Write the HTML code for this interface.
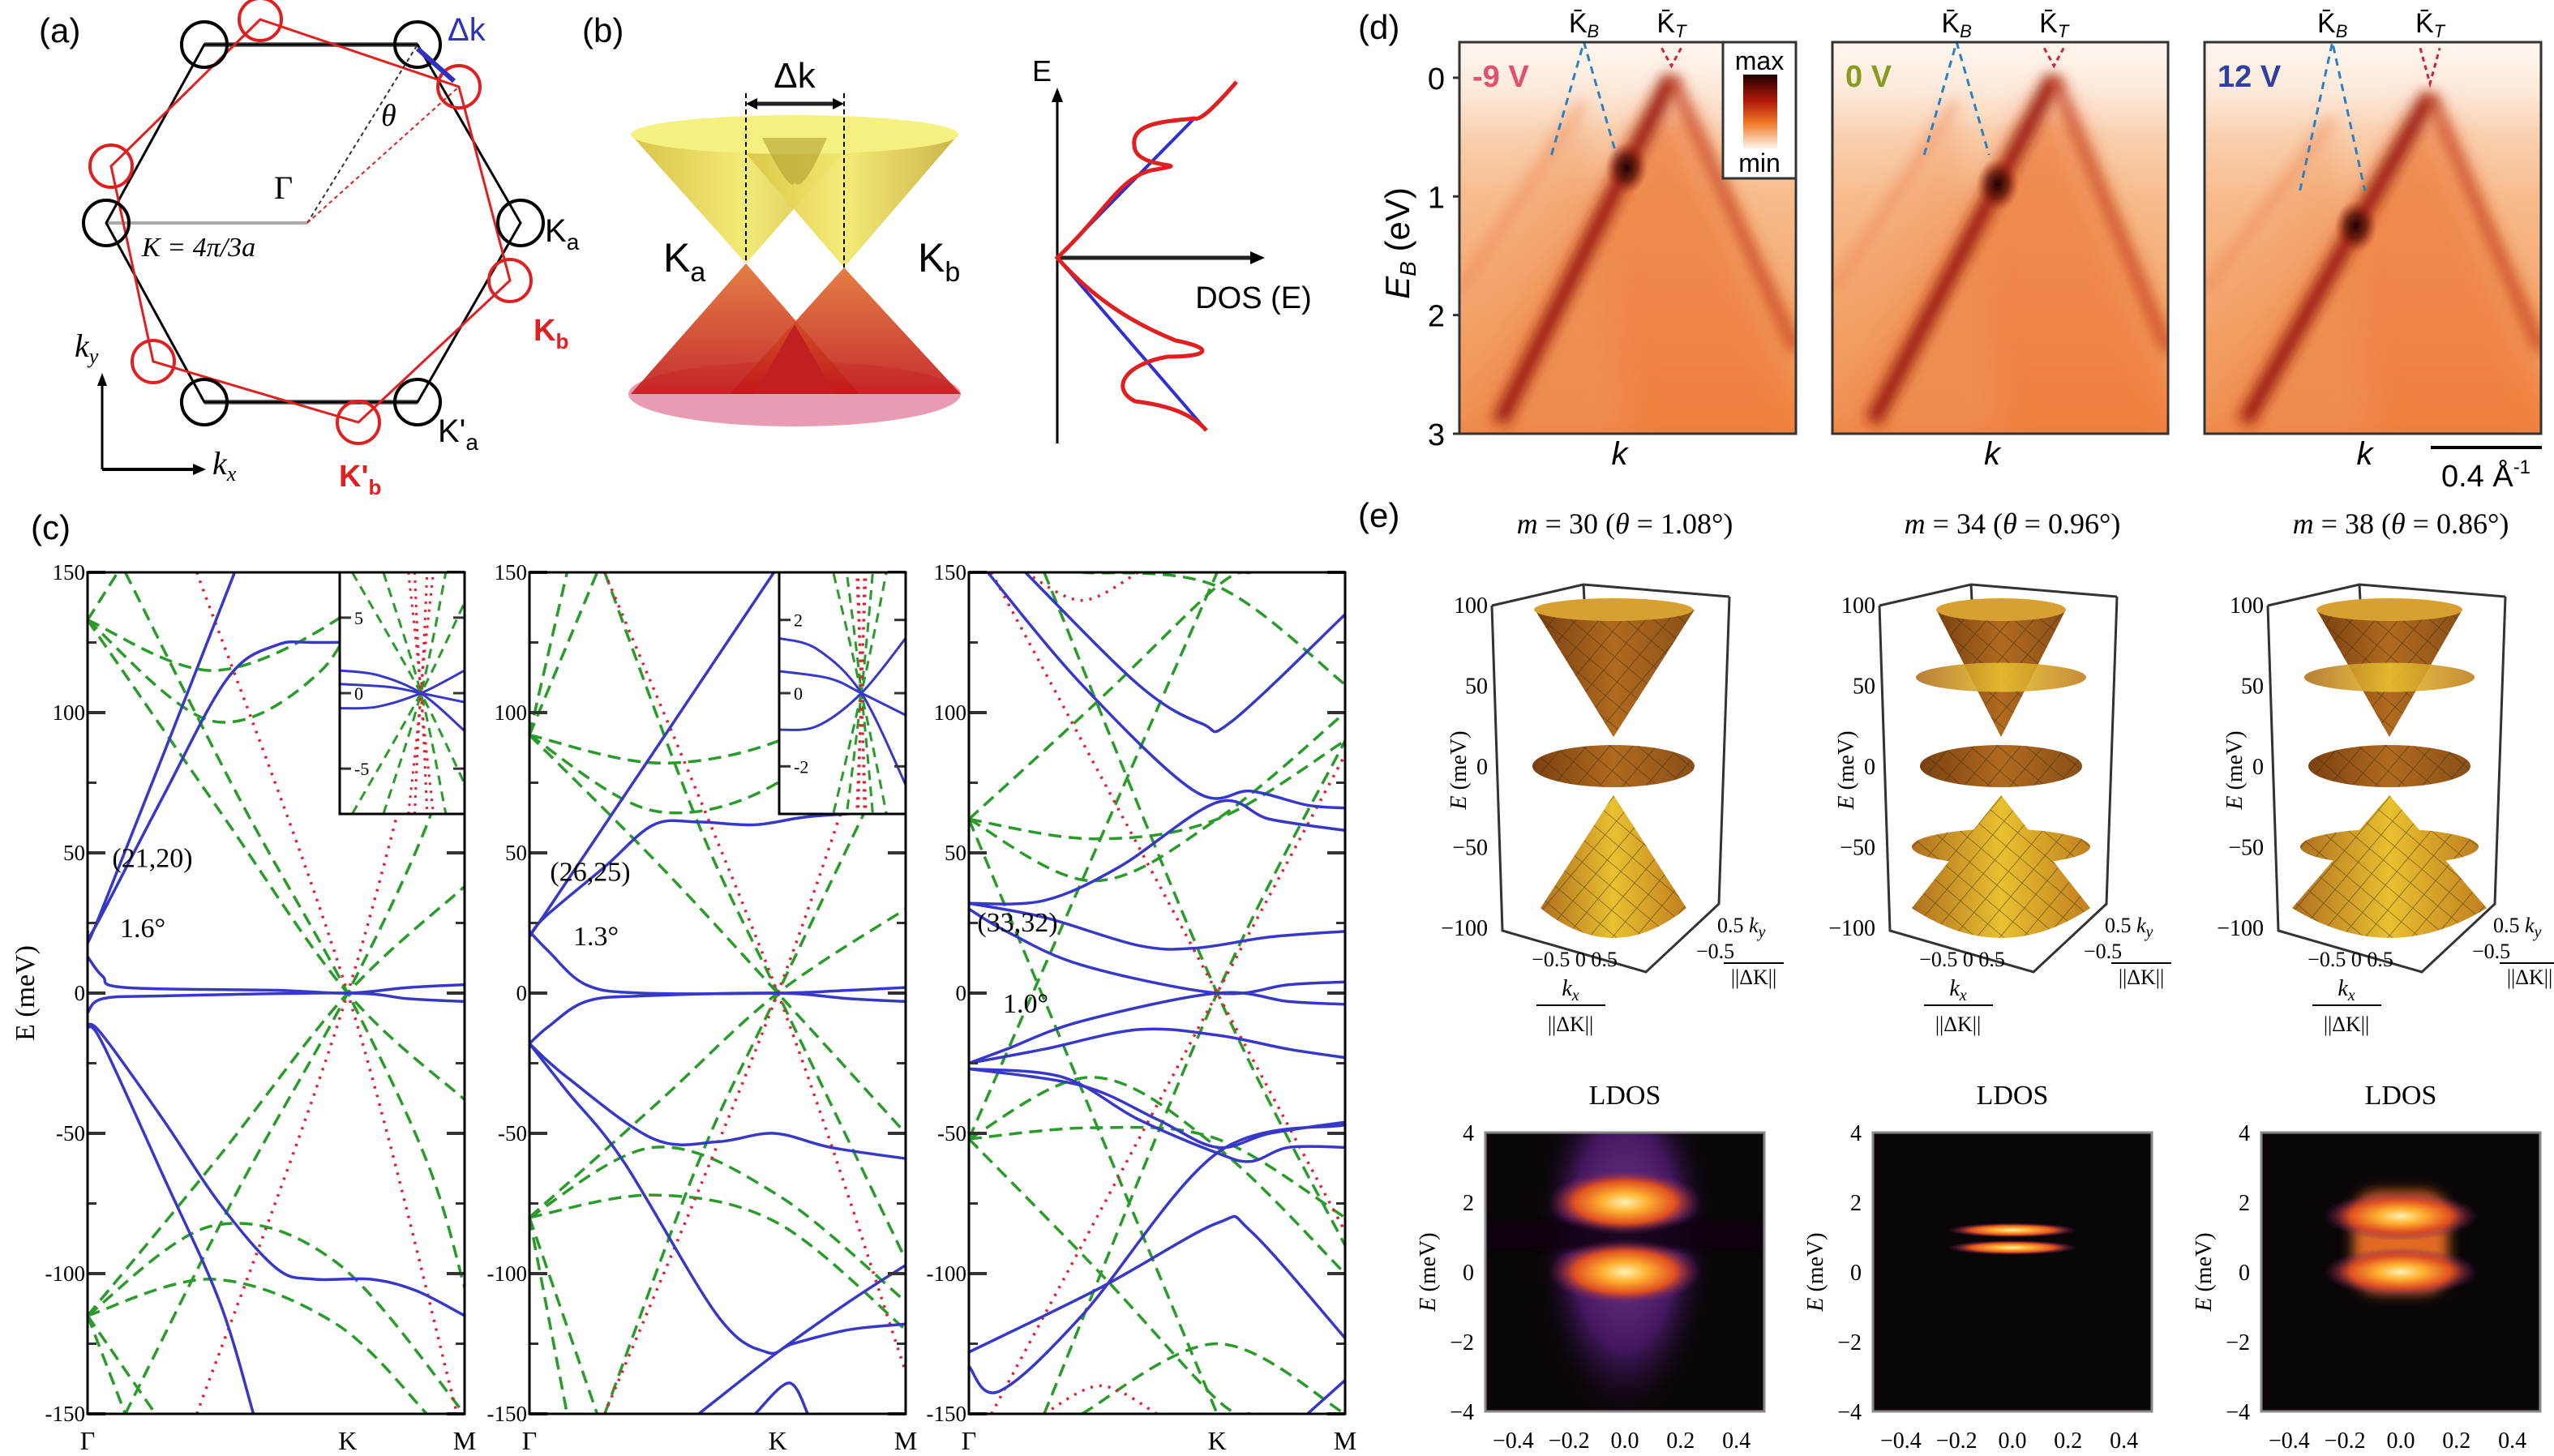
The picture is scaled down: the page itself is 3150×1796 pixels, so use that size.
<!DOCTYPE html>
<html><head><meta charset="utf-8">
<style>
html,body{margin:0;padding:0;background:#fff;}
svg{display:block;}
.sans{font-family:"Liberation Sans",sans-serif;}
.serif{font-family:"Liberation Serif",serif;}
</style></head>
<body>
<svg id="fig" width="3150" height="1796" viewBox="0 0 3150 1796" xmlns="http://www.w3.org/2000/svg">
<defs>
  <linearGradient id="yel" x1="0" y1="0" x2="1" y2="0"><stop offset="0" stop-color="#d8c040"/><stop offset="0.5" stop-color="#f2ea70"/><stop offset="1" stop-color="#c8b040"/></linearGradient>
  <linearGradient id="redc" x1="0" y1="0" x2="0" y2="1"><stop offset="0" stop-color="#e07030"/><stop offset="1" stop-color="#c01818"/></linearGradient>
  <linearGradient id="brown" x1="0" y1="0" x2="1" y2="0"><stop offset="0" stop-color="#7a4010"/><stop offset="0.5" stop-color="#b06a20"/><stop offset="1" stop-color="#8a5018"/></linearGradient>
  <linearGradient id="gold" x1="0" y1="0" x2="1" y2="0"><stop offset="0" stop-color="#b07020"/><stop offset="0.5" stop-color="#e8c030"/><stop offset="1" stop-color="#c08020"/></linearGradient>
  <pattern id="mesh" width="22" height="22" patternUnits="userSpaceOnUse" patternTransform="rotate(40)"><path d="M0 0H22M0 0V22" stroke="#3a2a08" stroke-width="1.6" fill="none" opacity="0.6"/></pattern>
  <linearGradient id="cbar" x1="0" y1="0" x2="0" y2="1"><stop offset="0" stop-color="#200000"/><stop offset="0.35" stop-color="#b01808"/><stop offset="0.65" stop-color="#f07828"/><stop offset="1" stop-color="#fff8f0"/></linearGradient>
  <linearGradient id="arpesbg" x1="0" y1="0" x2="0" y2="1"><stop offset="0" stop-color="#fdf0e6"/><stop offset="0.4" stop-color="#f7bb8c"/><stop offset="1" stop-color="#f0904c"/></linearGradient>
  <linearGradient id="wash" x1="0" y1="0" x2="0" y2="1"><stop offset="0" stop-color="#fff6ee" stop-opacity="0.85"/><stop offset="1" stop-color="#fff6ee" stop-opacity="0"/></linearGradient>
  <filter id="blur8" x="-100%" y="-100%" width="300%" height="300%"><feGaussianBlur stdDeviation="8"/></filter>
  <filter id="blur20" x="-100%" y="-100%" width="300%" height="300%"><feGaussianBlur stdDeviation="20"/></filter>
  <filter id="blur4" x="-100%" y="-100%" width="300%" height="300%"><feGaussianBlur stdDeviation="4"/></filter>
  <radialGradient id="hot"><stop offset="0" stop-color="#fff2b0"/><stop offset="0.3" stop-color="#ffb030"/><stop offset="0.65" stop-color="#e05020"/><stop offset="1" stop-color="#6a1a6a" stop-opacity="0"/></radialGradient>
  <radialGradient id="purp"><stop offset="0" stop-color="#8040a0"/><stop offset="0.6" stop-color="#4a1a6a"/><stop offset="1" stop-color="#100510" stop-opacity="0"/></radialGradient>
  <radialGradient id="darkspot"><stop offset="0" stop-color="#1a0000" stop-opacity="0.95"/><stop offset="0.5" stop-color="#501005" stop-opacity="0.7"/><stop offset="1" stop-color="#a02010" stop-opacity="0"/></radialGradient>
</defs>

<!-- PANEL A -->
<g id="panel-a">
  <text x="48" y="52" class="sans" font-size="42">(a)</text>
  <line x1="252" y1="55" x2="515" y2="55" stroke="#777" stroke-width="6"/>
  <line x1="252" y1="496" x2="515" y2="496" stroke="#777" stroke-width="6"/>
  <line x1="131" y1="275" x2="379" y2="275" stroke="#aaa" stroke-width="4"/>
  <polygon points="252,55 515,55 642,275 515,496 252,496 131,275" fill="none" stroke="#000" stroke-width="3"/>
  <polygon points="321,24 566,107 629,346 442,521 189,446 137,205" fill="none" stroke="#e02020" stroke-width="3"/>
  <g fill="none" stroke="#000" stroke-width="4">
    <circle cx="252" cy="55" r="28"/><circle cx="515" cy="55" r="28"/><circle cx="642" cy="275" r="28"/><circle cx="515" cy="496" r="28"/><circle cx="252" cy="496" r="28"/><circle cx="131" cy="275" r="28"/>
  </g>
  <g fill="none" stroke="#e02020" stroke-width="4">
    <circle cx="321" cy="24" r="26"/><circle cx="566" cy="107" r="26"/><circle cx="629" cy="346" r="26"/><circle cx="442" cy="521" r="26"/><circle cx="189" cy="446" r="26"/><circle cx="137" cy="205" r="26"/>
  </g>
  <line x1="379" y1="275" x2="515" y2="55" stroke="#333" stroke-width="2" stroke-dasharray="5,4"/>
  <line x1="379" y1="275" x2="566" y2="107" stroke="#e02020" stroke-width="2" stroke-dasharray="5,4"/>
  <line x1="515" y1="60" x2="560" y2="100" stroke="#3030c0" stroke-width="6"/>
  <text x="552" y="50" class="sans" font-size="40" fill="#3030c0">Δk</text>
  <text x="470" y="155" class="serif" font-size="38" font-style="italic">θ</text>
  <text x="338" y="245" class="serif" font-size="40">Γ</text>
  <text x="175" y="316" class="serif" font-size="34" font-style="italic">K = 4π/3a</text>
  <text x="672" y="298" class="sans" font-size="40">K<tspan font-size="28" dy="10">a</tspan></text>
  <text x="658" y="420" class="sans" font-size="38" fill="#e02020" font-weight="bold">K<tspan font-size="26" dy="10">b</tspan></text>
  <text x="540" y="545" class="sans" font-size="40">K'<tspan font-size="28" dy="10">a</tspan></text>
  <text x="418" y="600" class="sans" font-size="38" fill="#e02020" font-weight="bold">K'<tspan font-size="26" dy="10">b</tspan></text>
  <line x1="126" y1="579" x2="126" y2="470" stroke="#000" stroke-width="3"/><polygon points="126,460 120,476 132,476"/>
  <line x1="126" y1="579" x2="240" y2="579" stroke="#000" stroke-width="4"/><polygon points="254,579 238,572 238,586"/>
  <text x="92" y="440" class="serif" font-size="40" font-style="italic">k<tspan font-size="26" dy="8">y</tspan></text>
  <text x="262" y="585" class="serif" font-size="40" font-style="italic">k<tspan font-size="26" dy="8">x</tspan></text>
</g>

<!-- PANEL B -->
<g id="panel-b">
  <text x="718" y="52" class="sans" font-size="42">(b)</text>
  <ellipse cx="980" cy="486" rx="205" ry="40" fill="#e07090" opacity="0.7"/>
  <polygon points="920,325 778,486 1060,486" fill="url(#redc)" opacity="0.9"/>
  <polygon points="1041,330 900,486 1185,486" fill="url(#redc)" opacity="0.9"/>
  <polygon points="980,400 930,486 1030,486" fill="#c02020"/>
  <polygon points="920,325 778,166 1060,166" fill="url(#yel)" opacity="0.95"/>
  <polygon points="1041,330 900,166 1182,166" fill="url(#yel)" opacity="0.95"/>
  <ellipse cx="980" cy="166" rx="202" ry="24" fill="#f6f080"/>
  <path d="M940 170 Q975 240 980 225 Q990 240 1020 170 Z" fill="#b0a030" opacity="0.6"/>
  <line x1="920" y1="115" x2="920" y2="325" stroke="#000" stroke-width="2" stroke-dasharray="6,4"/>
  <line x1="1041" y1="115" x2="1041" y2="330" stroke="#000" stroke-width="2" stroke-dasharray="6,4"/>
  <line x1="926" y1="128" x2="1035" y2="128" stroke="#222" stroke-width="5"/>
  <polygon points="920,128 934,121 934,135"/><polygon points="1041,128 1027,121 1027,135"/>
  <text x="980" y="108" class="sans" font-size="44" text-anchor="middle">Δk</text>
  <text x="818" y="335" class="sans" font-size="50">K<tspan font-size="34" dy="12">a</tspan></text>
  <text x="1132" y="335" class="sans" font-size="50">K<tspan font-size="34" dy="12">b</tspan></text>
  <line x1="1304" y1="547" x2="1304" y2="122" stroke="#000" stroke-width="3"/>
  <polygon points="1304,108 1297,126 1311,126"/>
  <line x1="1304" y1="318" x2="1545" y2="318" stroke="#222" stroke-width="5"/>
  <polygon points="1560,318 1542,310 1542,326"/>
  <text x="1273" y="100" class="sans" font-size="36">E</text>
  <text x="1546" y="380" class="sans" font-size="38" text-anchor="middle">DOS (E)</text>
  <polyline points="1473,146 1304,318 1488,531" fill="none" stroke="#3030d0" stroke-width="4"/>
  <path d="M1525,101 C1500,130 1480,150 1473,146 C1440,150 1390,150 1400,185 C1410,210 1480,200 1420,210 C1380,220 1365,260 1304,318 C1350,370 1400,400 1450,420 C1500,430 1490,440 1440,440 C1385,450 1370,480 1400,495 C1440,500 1470,510 1488,531" fill="none" stroke="#e02020" stroke-width="5"/>
</g>

<!-- PANEL C -->
<g id="panel-c">
  <text x="38" y="665" class="sans" font-size="42">(c)</text>
  <text transform="translate(42,1225) rotate(-90)" class="serif" font-size="34" text-anchor="middle">E  (meV)</text>
</g>

<!-- PANEL D -->
<g id="panel-d">
  <text x="1675" y="48" class="sans" font-size="42">(d)</text>
  <text transform="translate(1738,300) rotate(-90)" class="sans" font-size="42" text-anchor="middle"><tspan font-style="italic">E</tspan><tspan font-size="28" dy="8" font-style="italic">B</tspan><tspan dy="-8"> (eV)</tspan></text>
</g>

<!-- PANEL E -->
<g id="panel-e">
  <text x="1675" y="650" class="sans" font-size="42">(e)</text>
</g>
</svg>

<script>
const NS='http://www.w3.org/2000/svg';
function el(tag,attrs,parent){const e=document.createElementNS(NS,tag);for(const k in attrs)e.setAttribute(k,attrs[k]);parent.appendChild(e);return e;}
function smooth(pts){if(pts.length<3){return 'M'+pts.map(p=>p[0].toFixed(1)+','+p[1].toFixed(1)).join(' L');}
 let d='M'+pts[0][0].toFixed(1)+','+pts[0][1].toFixed(1);
 for(let i=0;i<pts.length-1;i++){const p0=pts[i-1]||pts[i],p1=pts[i],p2=pts[i+1],p3=pts[i+2]||p2;
  const c1=[p1[0]+(p2[0]-p0[0])/6,p1[1]+(p2[1]-p0[1])/6],c2=[p2[0]-(p3[0]-p1[0])/6,p2[1]-(p3[1]-p1[1])/6];
  d+=' C'+c1[0].toFixed(1)+','+c1[1].toFixed(1)+' '+c2[0].toFixed(1)+','+c2[1].toFixed(1)+' '+p2[0].toFixed(1)+','+p2[1].toFixed(1);}
 return d;}

/* ===== Panel (c) data ===== */
const cTicks=[150,100,50,0,-50,-100,-150];
const cKLabels=['Γ','K','M'];
const cTitles=[['(21,20)','1.6°'],['(26,25)','1.3°'],['(33,32)','1.0°']];
const cKpos=[0.69,0.66,0.66];
const blue1=[[[0,22],[0.03,27],[0.39,150]],[[0,20],[0.03,26],[0.2,70],[0.37,112],[0.5,124],[0.63,125],[1,125]],[[0,13],[0.04,6],[0.1,2],[0.5,1],[0.69,0],[0.85,2],[1,3]],[[0,-7],[0.04,-2],[0.2,-1],[0.69,0],[0.85,-2],[1,-3]],[[0,-11],[0.04,-15],[0.2,-45],[0.35,-75],[0.5,-98],[0.6,-102],[0.75,-102],[0.87,-106],[1,-115]],[[0,-12],[0.04,-18],[0.2,-65],[0.35,-110],[0.44,-150]]];
const green1=[[[0,133],[0.33,115],[0.66,133],[0.74,150]],[[0,133],[0.33,97],[0.62,115],[0.75,150]],[[0,133],[0.35,65],[0.69,0],[1,-38]],[[0,-115],[0.35,-58],[0.69,0],[1,38]],[[0.1,150],[0.4,70],[0.69,0],[0.9,-60],[1,-105]],[[0.1,-150],[0.4,-70],[0.69,0],[0.9,60],[1,105]],[[0,-115],[0.33,-83],[0.66,-96],[1,-150]],[[0,-115],[0.33,-102],[0.66,-118],[0.9,-150]],[[0,-115],[0.1,-150]],[[0,-115],[0.18,-150]],[[0,133],[0.08,150]]];
const red1=[[[0.29,150],[0.69,0],[0.98,-150]],[[0.29,-150],[0.69,0],[0.98,150]]];
const blue2=[[[0,22],[0.04,28],[0.65,150]],[[0,20],[0.04,27],[0.2,45],[0.33,60],[0.45,61],[0.6,60],[0.75,63],[1,65]],[[0,22],[0.05,15],[0.15,3],[0.3,0],[0.66,0],[0.85,1],[1,2]],[[0,-18],[0.05,-12],[0.15,-3],[0.3,-1],[0.66,0],[0.85,-2],[1,-3]],[[0,-18],[0.1,-30],[0.33,-52],[0.5,-53],[0.65,-50],[0.8,-55],[1,-59]],[[0,-18],[0.1,-35],[0.25,-60],[0.5,-115],[0.63,-128],[0.7,-125],[0.85,-120],[1,-118]],[[0.45,-150],[0.66,-128],[0.85,-110],[1,-97]],[[0.6,-150],[0.69,-139],[0.74,-150]]];
const green2=[[[0,92],[0.35,82],[0.7,92],[1,120]],[[0,92],[0.33,65],[0.66,75],[0.9,110]],[[0,92],[0.35,45],[0.66,0],[1,-50]],[[0,-80],[0.35,-38],[0.66,0],[1,30]],[[0,-80],[0.33,-55],[0.66,-72],[1,-110]],[[0,-80],[0.33,-72],[0.66,-82],[1,-120]],[[0,92],[0.18,150]],[[0,92],[0.1,150]],[[0,-80],[0.18,-150]],[[0,-80],[0.1,-150]],[[0.2,150],[0.45,60],[0.66,0],[1,-95]],[[0.2,-150],[0.45,-60],[0.66,0],[1,95]]];
const red2=[[[0.2,150],[0.66,0],[1,-135]],[[0.2,-150],[0.66,0],[1,135]]];
const blue3=[[[0.15,150],[0.45,110],[0.62,96],[0.7,97],[1,135]],[[0.05,150],[0.3,110],[0.6,72],[0.75,72],[0.9,67],[1,66]],[[0,32],[0.2,33],[0.4,45],[0.66,68],[0.8,62],[1,58]],[[0,32],[0.2,27],[0.45,17],[0.6,16],[0.8,20],[1,22]],[[0,30],[0.1,22],[0.3,10],[0.66,0],[0.85,3],[1,4]],[[0,-25],[0.1,-20],[0.3,-10],[0.66,0],[0.85,-3],[1,-4]],[[0,-25],[0.2,-20],[0.45,-13],[0.66,-15],[0.85,-20],[1,-23]],[[0,-27],[0.25,-30],[0.45,-45],[0.66,-57],[0.75,-60],[0.85,-55],[1,-55]],[[0,-27],[0.3,-33],[0.5,-45],[0.66,-55],[0.8,-50],[1,-46]],[[0,-133],[0.08,-142],[0.3,-115],[0.66,-57],[1,-47]],[[0,-128],[0.35,-105],[0.66,-82],[0.75,-85],[1,-123]],[[0.9,-150],[1,-138]]];
const green3=[[[0,62],[0.33,40],[0.66,62],[1,100]],[[0,62],[0.33,55],[0.66,62],[1,90]],[[0,-52],[0.33,-30],[0.66,-55],[1,-100]],[[0,-52],[0.33,-48],[0.66,-52],[1,-80]],[[0,62],[0.35,105],[0.66,145],[0.75,150]],[[0,-52],[0.35,-100],[0.66,-145],[0.75,-150]],[[0.3,-150],[0.66,-125],[1,-150]],[[0.3,150],[0.66,145],[1,110]],[[0.2,150],[0.66,0],[1,-90]],[[0.2,-150],[0.66,0],[1,90]],[[0,62],[0.66,-150]],[[0,-52],[0.66,150]]];
const red3=[[[0.06,150],[0.66,0],[1,-85]],[[0.06,-150],[0.66,0],[1,85]],[[0.15,150],[0.3,140],[0.45,150]],[[0.2,-150],[0.35,-140],[0.5,-150]]];
const inBlue=[[[0,1.5],[0.3,1.2],[0.65,0],[1,-2.5]],[[0,-1],[0.3,-0.9],[0.65,0],[1,1.5]],[[0,0.6],[0.4,0.4],[0.65,0],[1,-0.6]]];
const inGreen=[[[0.1,8],[0.65,0],[1,-6]],[[0.1,-8],[0.65,0],[1,6]],[[0.35,8],[0.65,0],[0.85,-8]],[[0.35,-8],[0.65,0],[0.85,8]]];
const inRed=[[[0.55,8],[0.65,0],[0.7,-8]],[[0.55,-8],[0.65,0],[0.7,8]],[[0.6,8],[0.65,0],[0.75,-8]],[[0.6,-8],[0.65,0],[0.75,8]]];
const inTicks1=[5,0,-5], inTicks2=[2,0,-2];

const cPlots=[{x0:108,x1:573,blue:blue1,green:green1,red:red1,inset:{x0:419,x1:573,ticks:inTicks1,range:8}},
              {x0:653,x1:1117,blue:blue2,green:green2,red:red2,inset:{x0:961,x1:1117,ticks:inTicks2,range:3.3}},
              {x0:1195,x1:1659,blue:blue3,green:green3,red:red3,inset:null}];
const cY0=706,cY1=1744;
const pc=document.getElementById('panel-c');
cPlots.forEach((p,i)=>{
  const g=el('g',{},pc);
  
  
  const sx=k=>p.x0+k*(p.x1-p.x0), sy=E=>cY0+(150-E)/300*(cY1-cY0);
  const cid='clipc'+i;const cp=el('clipPath',{id:cid},g);el('rect',{x:p.x0,y:cY0,width:p.x1-p.x0,height:cY1-cY0},cp);
  const cg=el('g',{'clip-path':'url(#'+cid+')'},g);
  p.green.forEach(c=>{const e=el('path',{d:smooth(c.map(q=>[sx(q[0]),sy(q[1])])),fill:'none',stroke:'#2a9a2a','stroke-width':3.5,'stroke-dasharray':'16,9'},cg);
    
    });
  p.red.forEach(c=>{const e=el('path',{d:smooth(c.map(q=>[sx(q[0]),sy(q[1])])),fill:'none',stroke:'#e02030','stroke-width':3.5,'stroke-dasharray':'3,8'},cg);
    
    });
  p.blue.forEach(c=>{const e=el('path',{d:smooth(c.map(q=>[sx(q[0]),sy(q[1])])),fill:'none',stroke:'#3838c8','stroke-width':3.5},cg);
    
    });
  for(let E=-150;E<=150;E+=25){const maj=E%50===0;const L=maj?22:11;
    el('line',{x1:p.x0,x2:p.x0+L,y1:sy(E),y2:sy(E),stroke:'#333','stroke-width':maj?4:3},g);
    el('line',{x1:p.x1,x2:p.x1-L,y1:sy(E),y2:sy(E),stroke:'#333','stroke-width':maj?4:3},g);}
  cTicks.forEach(t=>{const e=el('text',{x:p.x0-3,y:sy(t)+9,'font-size':27,'text-anchor':'end',class:'serif'},g);e.textContent=t;
    
    });
  [0,cKpos[i],1].forEach((k,j)=>{const e=el('text',{x:sx(k),y:1788,'font-size':32,'text-anchor':'middle',class:'serif'},g);e.textContent=cKLabels[j];
    
    });
  const t1=el('text',{x:sx(0)+[80,75,60][i],y:sy([45,40,22][i]),'font-size':34,'text-anchor':'middle',class:'serif'},g);t1.textContent=cTitles[i][0];
  
  
  const t2=el('text',{x:sx(0)+[68,82,70][i],y:sy([20,17,-7][i]),'font-size':34,'text-anchor':'middle',class:'serif'},g);t2.textContent=cTitles[i][1];
  
  
  el('rect',{x:p.x0,y:cY0,width:p.x1-p.x0,height:cY1-cY0,fill:'none',stroke:'#000','stroke-width':3},g);
  if(p.inset){const I=p.inset,iy0=cY0,iy1=1004;const ig=el('g',{},g);
    
    
    el('rect',{x:I.x0,y:iy0,width:I.x1-I.x0,height:iy1-iy0,fill:'#fff'},ig);
    const ix=k=>I.x0+k*(I.x1-I.x0),iy=E=>(iy0+iy1)/2-E/I.range*(iy1-iy0)/2;
    const icid='clipi'+i;const icp=el('clipPath',{id:icid},ig);el('rect',{x:I.x0,y:iy0,width:I.x1-I.x0,height:iy1-iy0},icp);
    const icg=el('g',{'clip-path':'url(#'+icid+')'},ig);
    inGreen.forEach(c=>el('path',{d:smooth(c.map(q=>[ix(q[0]),iy(q[1])])),fill:'none',stroke:'#2a9a2a','stroke-width':3,'stroke-dasharray':'12,8'},icg));
    inRed.forEach(c=>el('path',{d:smooth(c.map(q=>[ix(q[0]),iy(q[1])])),fill:'none',stroke:'#e02030','stroke-width':3,'stroke-dasharray':'3,7'},icg));
    inBlue.forEach(c=>el('path',{d:smooth(c.map(q=>[ix(q[0]),iy(q[1])])),fill:'none',stroke:'#3838c8','stroke-width':3},icg));
    I.ticks.forEach(t=>{el('line',{x1:I.x0,x2:I.x0+14,y1:iy(t),y2:iy(t),stroke:'#333','stroke-width':3},ig);el('line',{x1:I.x1,x2:I.x1-14,y1:iy(t),y2:iy(t),stroke:'#333','stroke-width':3},ig);
      const e=el('text',{x:I.x0+18,y:iy(t)+8,'font-size':22,class:'serif'},ig);e.textContent=t;});
    el('rect',{x:I.x0,y:iy0,width:I.x1-I.x0,height:iy1-iy0,fill:'none',stroke:'#000','stroke-width':3},ig);}
});

/* ===== Panel (d) ARPES ===== */
const dTicks=[0,1,2,3];
const dVoltages=['-9 V','0 V','12 V'];
const dVoltColors=['#e05070','#8a9a20','#3040a0'];
const dDiracE=[0.0,0.0,0.15];
const dKT=[0.63,0.66,0.67];
const dKB=[0.37,0.37,0.38];
const dHotE=[0.76,0.9,1.25];
const dX=[[1800,2215],[2260,2674],[2719,3134]];
const dY0=52,dY1=535,eTop=-0.3,eBot=3;
const pd=document.getElementById('panel-d');
dX.forEach((xr,i)=>{
  const g=el('g',{},pd);
  
  
  const sx=f=>xr[0]+f*(xr[1]-xr[0]), sy=E=>dY0+(E-eTop)/(eBot-eTop)*(dY1-dY0);
  const cid='clipd'+i;const cp=el('clipPath',{id:cid},g);el('rect',{x:xr[0],y:dY0,width:xr[1]-xr[0],height:dY1-dY0},cp);
  const cg=el('g',{'clip-path':'url(#'+cid+')'},g);
  el('rect',{x:xr[0],y:dY0,width:xr[1]-xr[0],height:dY1-dY0,fill:'url(#arpesbg)'},cg);
  const ax=sx(dKT[i]),ay=sy(dDiracE[i]);
  el('polygon',{points:`${ax},${ay} ${sx(-0.1)},${sy(3.3)} ${sx(1.1)},${sy(3.3)}`,fill:'#ee7a3a',opacity:0.75,filter:'url(#blur20)'},cg);
  el('polygon',{points:`${sx(dKB[i])},${sy(dDiracE[i]+0.2)} ${sx(-0.2)},${sy(3)} ${sx(0.5)},${sy(3)}`,fill:'#f19a60',opacity:0.5,filter:'url(#blur20)'},cg);
  el('rect',{x:xr[0],y:dY0,width:xr[1]-xr[0],height:110,fill:'url(#wash)'},cg);
  el('line',{x1:ax,y1:ay,x2:sx(0.12),y2:sy(2.9),stroke:'#9a1a08','stroke-width':20,filter:'url(#blur8)'},cg);
  el('line',{x1:ax,y1:ay,x2:sx(1.0),y2:sy(2.3),stroke:'#c03010','stroke-width':16,opacity:0.7,filter:'url(#blur8)'},cg);
  el('line',{x1:sx(dKB[i]),y1:sy(dDiracE[i]+0.2),x2:sx(0.0),y2:sy(1.8),stroke:'#e87040','stroke-width':12,opacity:0.4,filter:'url(#blur8)'},cg);
  const hx=ax+(sx(0.12)-ax)*(dHotE[i]-dDiracE[i])/(2.9-dDiracE[i]);
  const hs=el('ellipse',{cx:hx,cy:sy(dHotE[i]),rx:26,ry:32,fill:'url(#darkspot)'},cg);
  
  
  const bx=sx(dKB[i]);
  el('polyline',{points:`${bx-40},${sy(0.65+dDiracE[i]*2)} ${bx},${sy(-0.3)} ${bx+40},${sy(0.65+dDiracE[i]*2)}`,fill:'none',stroke:'#2a80c0','stroke-width':3,'stroke-dasharray':'9,7'},cg);
  el('polyline',{points:`${ax-12},${sy(-0.25)} ${ax},${sy(dDiracE[i]-0.1)} ${ax+12},${sy(-0.25)}`,fill:'none',stroke:'#d02040','stroke-width':3,'stroke-dasharray':'6,5'},cg);
  el('rect',{x:xr[0],y:dY0,width:xr[1]-xr[0],height:dY1-dY0,fill:'none',stroke:'#333','stroke-width':3},g);
  const v=el('text',{x:xr[0]+16,y:dY0+55,'font-size':38,'font-weight':'bold',fill:dVoltColors[i],class:'sans'},g);v.textContent=dVoltages[i];
  
  
  const kb=el('text',{x:bx,y:40,'font-size':34,'text-anchor':'middle',class:'sans'},g);kb.innerHTML='K̄<tspan font-size="22" dy="6" font-style="italic">B</tspan>';
  
  
  const kt=el('text',{x:ax,y:40,'font-size':34,'text-anchor':'middle',class:'sans'},g);kt.innerHTML='K̄<tspan font-size="22" dy="6" font-style="italic">T</tspan>';
  
  
  const kl=el('text',{x:(xr[0]+xr[1])/2-10,y:573,'font-size':40,'font-style':'italic','text-anchor':'middle',class:'sans'},g);kl.textContent='k';
  
  
  if(i===0){dTicks.forEach(t=>{el('line',{x1:xr[0]-8,x2:xr[0],y1:sy(t),y2:sy(t),stroke:'#333','stroke-width':3},g);
    const e=el('text',{x:xr[0]-18,y:sy(t)+14,'font-size':38,'text-anchor':'end',class:'sans'},g);e.textContent=t;
    
    });
    const cb=el('g',{},g);
    
    
    el('rect',{x:2125,y:52,width:90,height:168,fill:'#fff',stroke:'#333','stroke-width':3},cb);
    el('rect',{x:2150,y:92,width:42,height:92,fill:'url(#cbar)'},cb);
    const t1=el('text',{x:2170,y:86,'font-size':32,'text-anchor':'middle',class:'sans'},cb);t1.textContent='max';
    const t2=el('text',{x:2170,y:212,'font-size':32,'text-anchor':'middle',class:'sans'},cb);t2.textContent='min';}
});
el('line',{x1:2998,x2:3135,y1:552,y2:552,stroke:'#000','stroke-width':4},pd);
{const s=el('text',{x:3066,y:600,'font-size':38,'text-anchor':'middle',class:'sans'},pd);s.innerHTML='0.4 Å<tspan font-size="24" dy="-16">-1</tspan>';
 
 }

/* ===== Panel (e) ===== */
const eTitles=['m = 30 (θ = 1.08°)','m = 34 (θ = 0.96°)','m = 38 (θ = 0.86°)'];
const eOffsets=[0,478,957];
const eTicks3d=[100,50,0,-50,-100];
const ldosTicksY=[4,2,0,-2,-4];
const ldosTicksX=[-0.4,-0.2,0.0,0.2,0.4];
const ldosPeaks1=[2.0,0.0];
const ldosPeaks2=[1.2,0.7];
const ldosPeaks3=[1.6,0.0];
const ldosPeakSets=[ldosPeaks1,ldosPeaks2,ldosPeaks3];
const pe=document.getElementById('panel-e');
eOffsets.forEach((o,i)=>{
  const g=el('g',{},pe);
  
  
  const t=el('text',{x:2004+o,y:658,'font-size':36,'text-anchor':'middle',class:'serif'},g);
  t.innerHTML='<tspan font-style="italic">m</tspan>'+eTitles[i].slice(1).replace('θ','<tspan font-style="italic">θ</tspan>');
  
  
  const b=el('g',{transform:`translate(${o},0)`},g);
  
  
  const sy=E=>945-E*1.99;
  el('path',{d:'M1840,747 L1953,721 L2133,736 M1840,747 L1853,1148 L2030,1199 L2120,1115 L2133,736 M1953,721 L1955,760',fill:'none',stroke:'#333','stroke-width':3},b);
  el('path',{d:`M1990,${sy(-18)} L${[1900,1880,1870][i]},${sy(-88)} Q1990,${sy(-125)} ${[2080,2100,2110][i]},${sy(-88)} Z`,fill:'url(#gold)'},b);
  el('path',{d:`M1990,${sy(-18)} L${[1900,1880,1870][i]},${sy(-88)} Q1990,${sy(-125)} ${[2080,2100,2110][i]},${sy(-88)} Z`,fill:'url(#mesh)'},b);
  if(i>0){el('ellipse',{cx:1990,cy:sy(-50),rx:110,ry:22,fill:'url(#gold)'},b);el('ellipse',{cx:1990,cy:sy(-50),rx:110,ry:22,fill:'url(#mesh)'},b);}
  el('ellipse',{cx:1990,cy:sy(0),rx:100,ry:26,fill:'url(#brown)'},b);
  el('ellipse',{cx:1990,cy:sy(0),rx:100,ry:26,fill:'url(#mesh)'},b);
  el('path',{d:`M1990,${sy(18)} L${[1893,1910,1900][i]},${sy(97)} Q1990,${sy(85)} ${[2090,2070,2080][i]},${sy(97)} Z`,fill:'url(#brown)'},b);
  el('path',{d:`M1990,${sy(18)} L${[1893,1910,1900][i]},${sy(97)} Q1990,${sy(85)} ${[2090,2070,2080][i]},${sy(97)} Z`,fill:'url(#mesh)'},b);
  el('ellipse',{cx:1990,cy:sy(97),rx:[98,80,90][i],ry:14,fill:'#d8a030'},b);
  if(i>0){el('ellipse',{cx:1990,cy:sy(55),rx:105,ry:18,fill:'url(#gold)',opacity:0.9},b);}
  eTicks3d.forEach(v=>{const e=el('text',{x:1835,y:sy(v)+10,'font-size':28,'text-anchor':'end',class:'serif'},b);e.textContent=v===0?'0':(v<0?'−'+(-v):v);});
  const ey=el('text',{transform:'translate(1808,950) rotate(-90)','font-size':28,'text-anchor':'middle',class:'serif'},b);ey.innerHTML='<tspan font-style="italic">E</tspan> (meV)';
  const kx=el('text',{x:1942,y:1192,'font-size':26,'text-anchor':'middle',class:'serif'},b);kx.textContent='−0.5  0  0.5';
  const ky=el('text',{x:2092,y:1182,'font-size':26,class:'serif'},b);ky.textContent='−0.5';
  const ky2=el('text',{x:2118,y:1150,'font-size':26,class:'serif'},b);ky2.innerHTML='0.5 <tspan font-style="italic">k<tspan dy="6" font-size="20">y</tspan></tspan>';
  const kxl=el('text',{x:1937,y:1228,'font-size':28,'text-anchor':'middle','font-style':'italic',class:'serif'},b);kxl.innerHTML='k<tspan dy="6" font-size="20">x</tspan>';
  el('line',{x1:1895,x2:1980,y1:1240,y2:1240,stroke:'#000','stroke-width':2},b);
  const n1=el('text',{x:1937,y:1272,'font-size':26,'text-anchor':'middle',class:'serif'},b);n1.textContent='||ΔK||';
  el('line',{x1:2126,x2:2200,y1:1188,y2:1188,stroke:'#000','stroke-width':2},b);
  const n2=el('text',{x:2163,y:1214,'font-size':26,'text-anchor':'middle',class:'serif'},b);n2.textContent='||ΔK||';
  const lx0=1832+o,lx1=2176+o,ly0=1397,ly1=1741;
  const lg=el('g',{},g);
  
  
  const lsx=v=>lx0+(v+0.5)*(lx1-lx0),lsy=E=>ly0+(4-E)/8*(ly1-ly0);
  const lt=el('text',{x:(lx0+lx1)/2,y:1362,'font-size':34,'text-anchor':'middle',class:'serif'},lg);lt.textContent='LDOS';
  
  
  const lcid='clipl'+i;const lcp=el('clipPath',{id:lcid},lg);el('rect',{x:lx0,y:ly0,width:lx1-lx0,height:ly1-ly0},lcp);
  const lc=el('g',{'clip-path':'url(#'+lcid+')'},lg);
  el('rect',{x:lx0,y:ly0,width:lx1-lx0,height:ly1-ly0,fill:'#0a0608'},lc);
  const pk=ldosPeakSets[i];
  if(i===0){el('ellipse',{cx:lsx(0),cy:lsy((pk[0]+pk[1])/2),rx:110,ry:230,fill:'url(#purp)',opacity:0.9},lc);
    el('rect',{x:lx0,y:lsy(pk[0]-0.5),width:lx1-lx0,height:lsy(pk[1]+0.6)-lsy(pk[0]-0.5),fill:'#0a0608',opacity:0.85,filter:'url(#blur4)'},lc);}
  if(i===2){el('rect',{x:lsx(-0.17),y:lsy(pk[0]+0.7),width:lsx(0.17)-lsx(-0.17),height:lsy(pk[1]-0.6)-lsy(pk[0]+0.7),rx:30,fill:'#e06a20',filter:'url(#blur8)'},lc);}
  pk.forEach(E=>{const e=el('ellipse',{cx:lsx(0),cy:lsy(E),rx:[95,80,95][i],ry:[40,9,30][i],fill:'url(#hot)'},lc);
    
    });
  el('rect',{x:lx0,y:ly0,width:lx1-lx0,height:ly1-ly0,fill:'none',stroke:'#888','stroke-width':3},lg);
  ldosTicksY.forEach(v=>{const e=el('text',{x:lx0-14,y:lsy(v)+10,'font-size':28,'text-anchor':'end',class:'serif'},lg);e.textContent=v<0?'−'+(-v):v;});
  ldosTicksX.forEach(v=>{const e=el('text',{x:lsx(v),y:1786,'font-size':28,'text-anchor':'middle',class:'serif'},lg);e.textContent=(v<0?'−':'')+Math.abs(v).toFixed(1);});
  const ly=el('text',{transform:`translate(${lx0-62},1569) rotate(-90)`,'font-size':28,'text-anchor':'middle',class:'serif'},lg);ly.innerHTML='<tspan font-style="italic">E</tspan> (meV)';
});
</script>
</body></html>
